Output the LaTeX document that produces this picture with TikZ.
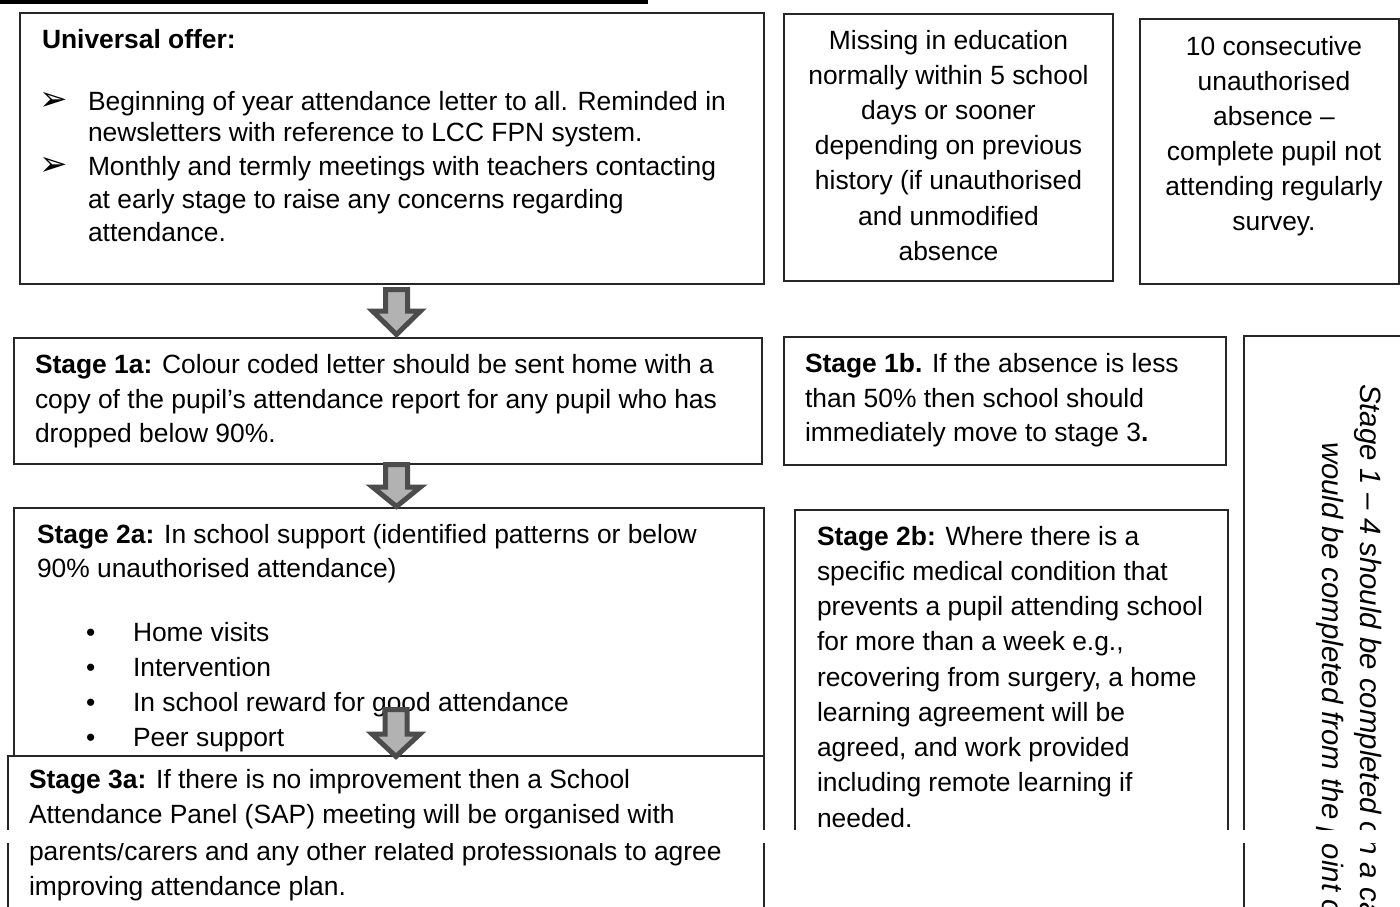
\documentclass[tikz,border=0pt]{standalone}
\usepackage{fontspec}
\setmainfont{Liberation Sans}
\newfontfamily\dejavu{DejaVu Sans}
\newcommand\fsz{\fontsize{26.4}{35.3}\selectfont}
\newcommand\blockdown[4]{% x, top, head start, tip
  \draw[blockarrow] (#1-11,#2) -- (#1+11,#2) -- (#1+11,#3) -- (#1+24,#3) -- (#1,#4) -- (#1-24,#3) -- (#1-11,#3) -- cycle;}
\begin{document}
\begin{tikzpicture}[x=1pt,y=-1pt]
\tikzset{
  box/.style={draw=black!85, line width=1.1pt, rectangle, inner sep=0pt, outer sep=0pt, anchor=north west},
  txt/.style={anchor=base west, inner sep=0pt, outer sep=0pt, font=\fsz},
  ctxt/.style={anchor=base, inner sep=0pt, outer sep=0pt, font=\fsz},
  vtxt/.style={anchor=base west, inner sep=0pt, outer sep=0pt, rotate=-90, font=\fontsize{29.4}{38}\selectfont\itshape},
  bul/.style={anchor=base west, inner sep=0pt, outer sep=0pt, font=\dejavu\fontsize{34}{34}\selectfont},
  blockarrow/.style={fill=black!30, draw=black!70, line width=5pt, line join=miter},
}
\useasboundingbox (0,0) rectangle (1400,906);
\clip (0,0) rectangle (1400,906);
\fill[white] (0,0) rectangle (1400,906);
% heading underline
\fill[black] (0,0) rectangle (648,3.5);

% ---- Universal offer
\node[box, minimum width=744pt, minimum height=271pt] (uni) at (20,13) {};
\node[txt, font=\fsz\bfseries] (u0) at (42,48) {Universal offer:};
\node[bul] (ub1) at (39,110) {➢};
\node[bul] (ub2) at (39,175) {➢};
\node[txt] (u1) at (88,110) {Beginning of year attendance letter to all. Reminded in};
\node[txt] (u2) at (88,141) {newsletters with reference to LCC FPN system.};
\node[txt] (u3) at (88,175) {Monthly and termly meetings with teachers contacting};
\node[txt] (u4) at (88,208) {at early stage to raise any concerns regarding};
\node[txt] (u5) at (88,241) {attendance.};

% ---- Missing in education
\node[box, minimum width=329pt, minimum height=267pt] (mis) at (784,14) {};
\foreach \t [count=\i from 0] in {Missing in education, normally within 5 school, days or sooner, depending on previous, history (if unauthorised, and unmodified, absence}
  \node[ctxt] (m\i) at (948.5,{49+35.2*\i}) {\t};

% ---- 10 consecutive
\node[box, minimum width=259pt, minimum height=265pt] (ten) at (1140,19) {};
\foreach \t [count=\i from 0] in {10 consecutive, unauthorised, absence –, complete pupil not, attending regularly, survey.}
  \node[ctxt] (c\i) at (1274,{55+35.1*\i}) {\t};

% ---- Stage 1a
\node[box, minimum width=748pt, minimum height=126pt] (s1a) at (14,338) {};
\node[txt] (a1) at (35,373) {\textbf{Stage 1a:} Colour coded letter should be sent home with a};
\node[txt] (a2) at (35,408) {copy of the pupil’s attendance report for any pupil who has};
\node[txt] (a3) at (35,442) {dropped below 90\%.};

% ---- Stage 1b
\node[box, minimum width=442pt, minimum height=128pt] (s1b) at (784,337) {};
\node[txt] (b1) at (805,372) {\textbf{Stage 1b.} If the absence is less};
\node[txt] (b2) at (805,407) {than 50\% then school should};
\node[txt] (b3) at (805,441) {immediately move to stage 3\textbf{.}};

% ---- Stage 2a
\node[box, minimum width=750pt, minimum height=300pt] (s2a) at (14,508) {};
\node[txt] (d1) at (37,543) {\textbf{Stage 2a:} In school support (identified patterns or below};
\node[txt] (d2) at (37,577) {90\% unauthorised attendance)};
\foreach \t [count=\i from 0] in {Home visits, Intervention, In school reward for good attendance, Peer support}{
  \node[txt] (db\i) at (86,{641+35*\i}) {•};
  \node[txt] (dt\i) at (133,{641+35*\i}) {\t};
}

% ---- Stage 2b
\node[box, minimum width=433pt, minimum height=330pt] (s2b) at (795,510) {};
\foreach \t [count=\i from 0] in {\textbf{Stage 2b:} Where there is a, specific medical condition that, prevents a pupil attending school, {for more than a week e.g.,}, {recovering from surgery, a home}, learning agreement will be, {agreed, and work provided}, including remote learning if, needed.}
  \node[txt] (e\i) at (817,{545+35.25*\i}) {\t};

% ---- vertical note box
\node[box, minimum width=180pt, minimum height=600pt] (note) at (1244,336) {};
\node[vtxt] (n1) at (1360,384) {Stage 1 – 4 should be completed on a ca};
\node[vtxt] (n2) at (1322,442) {would be completed from the point o};

% ---- Stage 3a (covers bottom of 2a)
\node[box, fill=white, minimum width=756pt, minimum height=180pt] (s3a) at (8,756) {};
\node[txt] (f1) at (29,788) {\textbf{Stage 3a:} If there is no improvement then a School};
\node[txt] (f2) at (29,823) {Attendance Panel (SAP) meeting will be organised with};
\node[txt] (f3) at (29,860) {parents/carers and any other related professionals to agree};
\node[txt] (f4) at (29,895) {improving attendance plan.};

% ---- block arrows
\blockdown{396.5}{289.5}{311}{334.5}
\blockdown{396.5}{464.5}{487}{506.5}
\blockdown{396}{709.5}{734}{756.5}

% ---- page break band
\fill[white] (0,830) rectangle (1400,843);
\end{tikzpicture}
\end{document}
